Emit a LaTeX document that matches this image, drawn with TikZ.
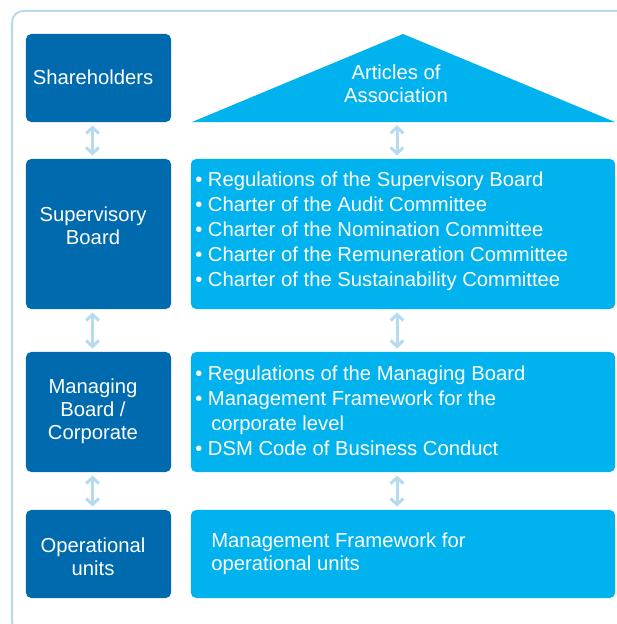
\documentclass[tikz,border=0pt]{standalone}
\usepackage{fontspec}
\setmainfont{Liberation Sans}
\usetikzlibrary{positioning}
\usetikzlibrary{arrows.meta}
\definecolor{dsmdark}{RGB}{0,106,174}
\definecolor{dsmcyan}{RGB}{0,178,238}
\definecolor{dsmpale}{RGB}{182,218,238}
\tikzset{
    bodybox/.style = {rectangle, rounded corners=0.13cm, fill=dsmdark, minimum width=3.625cm},
    bodytext/.style = {text=white, align=center, inner sep=0pt, font=\fontsize{14.4}{16.5}\selectfont},
    docbox/.style = {rectangle, rounded corners=0.13cm, fill=dsmcyan, minimum width=10.6cm},
    doctext/.style = {anchor=west, text=white, align=left, inner sep=0pt, font=\fontsize{14.4}{17.8}\selectfont},
    roofbox/.style = {fill=dsmcyan},
    link/.style = {{Straight Barb[length=0.15cm,width=0.32cm]}-{Straight Barb[length=0.15cm,width=0.32cm]}, line width=0.075cm, dsmpale, shorten >=0.08cm, shorten <=0.08cm},
    frame/.style = {line width=0.05cm, draw=dsmpale, rounded corners=0.28cm}
}

\begin{document}
\begin{tikzpicture}[x=0.025cm,y=-0.025cm]
\useasboundingbox (0,0) rectangle (617,624);
\draw[frame] (12,11) rectangle (634,633);

% bodies
\node[bodybox, minimum height=2.2cm]  at (98.5,  78) (sh) {};
\node[bodybox, minimum height=3.75cm] at (98.5, 234) (sb) {};
\node[bodybox, minimum height=3cm]    at (98.5, 412) (mb) {};
\node[bodybox, minimum height=2.2cm]  at (98.5, 554) (ou) {};
\node[bodytext] at (93,  77)   (shtext) {Shareholders};
\node[bodytext] at (93, 225.5) (sbtext) {Supervisory\\Board};
\node[bodytext] at (93, 411)   (mbtext) {Managing\\Board /\\Corporate};
\node[bodytext] at (93, 556.5) (outext) {Operational\\units};

% documents
\fill[roofbox] (192,122) -- (403,34) -- (615,122) -- cycle;
\node[bodytext] at (396,83.5) (aoa) {Articles of\\Association};
\coordinate (aoabase) at (397,122);
\node[docbox, minimum height=3.75cm] at (403, 234) (sbdoc) {};
\node[docbox, minimum height=3cm]    at (403, 412) (mbdoc) {};
\node[docbox, minimum height=2.2cm]  at (403, 554) (oudoc) {};

\node[doctext] at (195,231) (sbdoctext) {\textbullet\ Regulations of the Supervisory Board\\
\textbullet\ Charter of the Audit Committee\\
\textbullet\ Charter of the Nomination Committee\\
\textbullet\ Charter of the Remuneration Committee\\
\textbullet\ Charter of the Sustainability Committee};
\node[doctext] at (195,411) (mbdoctext) {\textbullet\ Regulations of the Managing Board\\
\textbullet\ Management Framework for the\\
\hspace*{0.4cm}corporate level\\
\textbullet\ DSM Code of Business Conduct};
\node[doctext, font=\fontsize{14.4}{16.5}\selectfont] at (211,554) (oudoctext) {Management Framework for\\operational units};

% links
\draw[link] ([xshift=-0.15cm]sh.south) -- ([xshift=-0.15cm]sb.north);
\draw[link] ([xshift=-0.15cm]sb.south) -- ([xshift=-0.15cm]mb.north);
\draw[link] ([xshift=-0.15cm]mb.south) -- ([xshift=-0.15cm]ou.north);
\draw[link] (aoabase) -- (aoabase |- sbdoc.north);
\draw[link] ([xshift=-0.15cm]sbdoc.south) -- ([xshift=-0.15cm]mbdoc.north);
\draw[link] ([xshift=-0.15cm]mbdoc.south) -- ([xshift=-0.15cm]oudoc.north);

\end{tikzpicture}
\end{document}
